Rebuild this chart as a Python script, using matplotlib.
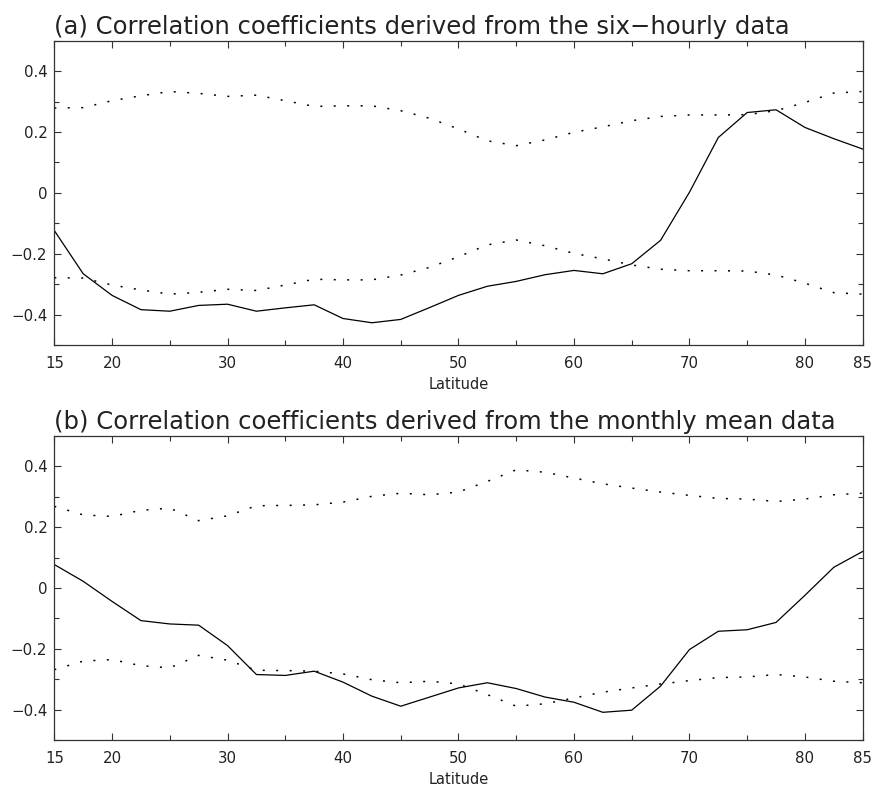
import numpy as np
import matplotlib
matplotlib.use('Agg')
import matplotlib.pyplot as plt
from matplotlib.ticker import MultipleLocator, FixedLocator

# latitudes, every 2.5 degrees
lat = np.arange(15, 85.01, 2.5)

# (a) six-hourly data
corr_a = [-0.124, -0.266, -0.337, -0.384, -0.389, -0.370, -0.366, -0.389, -0.378, -0.368,
          -0.413, -0.427, -0.416, -0.377, -0.337, -0.307, -0.291, -0.269, -0.255, -0.266,
          -0.233, -0.156, 0.002, 0.182, 0.264, 0.273, 0.215, 0.178, 0.144]
sig_a = [0.279, 0.280, 0.303, 0.319, 0.333, 0.327, 0.317, 0.321, 0.303, 0.284,
         0.286, 0.286, 0.270, 0.245, 0.210, 0.171, 0.155, 0.174, 0.199, 0.217,
         0.237, 0.251, 0.256, 0.256, 0.257, 0.270, 0.297, 0.328, 0.333]

# (b) monthly mean data
corr_b = [0.077, 0.022, -0.044, -0.107, -0.118, -0.122, -0.189, -0.284, -0.287, -0.273,
          -0.309, -0.355, -0.388, -0.358, -0.328, -0.311, -0.330, -0.358, -0.375, -0.408,
          -0.401, -0.322, -0.202, -0.142, -0.137, -0.113, -0.024, 0.068, 0.120]
sig_b = [0.268, 0.240, 0.235, 0.255, 0.262, 0.221, 0.237, 0.270, 0.271, 0.273,
         0.282, 0.301, 0.311, 0.306, 0.315, 0.350, 0.388, 0.380, 0.361, 0.342,
         0.328, 0.315, 0.304, 0.294, 0.292, 0.284, 0.292, 0.306, 0.311]

titles = ['(a) Correlation coefficients derived from the six\u2212hourly data',
          '(b) Correlation coefficients derived from the monthly mean data']
xticks = [15, 20, 30, 40, 50, 60, 70, 80, 85]
yticks = [-0.4, -0.2, 0, 0.2, 0.4]
ylabels = ['\u22120.4', '\u22120.2', '0', '0.2', '0.4']

plt.rcParams['font.family'] = ['DejaVu Sans']

fig = plt.figure(figsize=(8.72, 7.86), dpi=100)
boxes = [[0.0623, 0.5611, 0.927, 0.3871], [0.0623, 0.0581, 0.927, 0.3876]]
data = [(corr_a, sig_a), (corr_b, sig_b)]
dots = (0, (1.3, 7.5))

for box, (corr, sig), title in zip(boxes, data, titles):
    ax = fig.add_axes(box)
    sig = np.array(sig)
    ax.plot(lat, corr, 'k-', lw=0.9)
    ax.plot(lat, sig, color='k', lw=1.1, linestyle=dots)
    ax.plot(lat, -sig, color='k', lw=1.1, linestyle=dots)
    ax.set_xlim(15, 85)
    ax.set_ylim(-0.5, 0.5)
    ax.set_xticks(xticks)
    ax.set_xticklabels([str(t) for t in xticks])
    ax.xaxis.set_minor_locator(FixedLocator([25, 35, 45, 55, 65, 75]))
    ax.set_yticks(yticks)
    ax.set_yticklabels(ylabels)
    ax.yaxis.set_minor_locator(MultipleLocator(0.1))
    ax.tick_params(which='both', direction='in', top=True, right=True,
                   labelsize=10.8, color='#333333', labelcolor='#222222')
    ax.tick_params(which='major', length=5, width=0.8)
    ax.tick_params(which='minor', length=3.5, width=0.8)
    ax.tick_params(axis='x', which='major', pad=8)
    ax.tick_params(axis='y', which='major', pad=5)
    for s in ax.spines.values():
        s.set_linewidth(0.9)
        s.set_color('#333333')
    ax.set_xlabel('Latitude', fontsize=10.5, labelpad=4, color='#222222')
    ax.set_title(title, loc='left', fontsize=17.5, pad=5, color='#222222')

plt.savefig('out.png', dpi=100)
